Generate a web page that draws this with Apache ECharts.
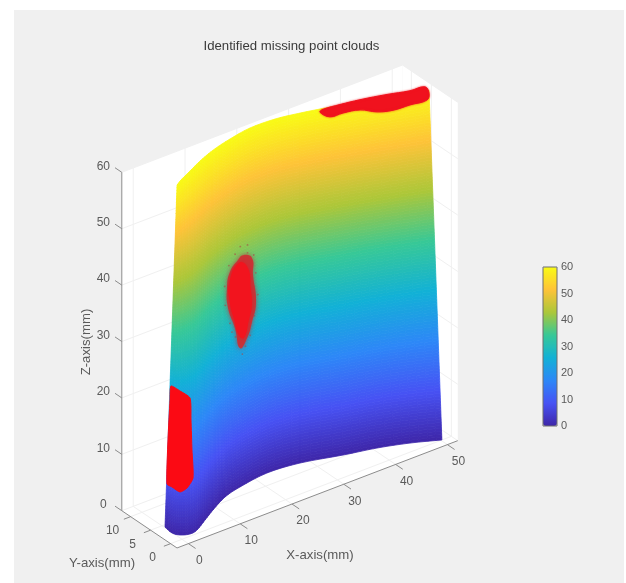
<!DOCTYPE html>
<html><head><meta charset="utf-8">
<style>html,body{margin:0;padding:0;background:#fff}#c{width:626px;height:583px;filter:blur(0.55px)}</style>
<script src="https://cdn.jsdelivr.net/npm/echarts@6/dist/echarts.min.js"></script>
</head><body><div id="c"></div>
<script>
// Axis ticks (mm)
const xTicks = [0, 10, 20, 30, 40, 50];
const yTicks = [0, 5, 10];
const zTicks = [0, 10, 20, 30, 40, 50, 60];
const colorbarTicks = [0, 10, 20, 30, 40, 50, 60];
const xRange = [-2.2, 52];
const yRange = [-1.6, 12.2];
const zRange = [0, 60];

// Surface outline: the cloud's lower edge (z = 0) and upper edge (z = 60)
const baseX = [0.15, -0.08, 0.54, 1.95, 3.55, 6.36, 9.17, 13.02, 16.7, 22.58, 28.47, 35.23, 40.7, 45.68, 50.17];
const baseY = [4.44, 2.4, 1.2, 0.53, 0.85, 2.48, 4.13, 6.11, 7.13, 8.0, 7.37, 5.37, 3.96, 2.15, 0];
const topX = [2.29, 3.69, 5.22, 7.06, 9.2, 11.46, 13.85, 17.22, 21.69, 26.41, 30.59, 35.38, 39.99, 45.4, 50.68];
const topY = [4.2, 5.03, 5.76, 6.64, 7.66, 8.6, 9.43, 10.3, 11.1, 10.95, 10.1, 8.8, 7.3, 5.55, 3.88];

// Missing regions, outlines as [x, y, z] in mm
const missingRoot = [[1.35,4.5,24.55],[3.09,4.5,23.06],[5.02,4.5,21.14],[5.21,4.5,17.17],[5.4,4.5,11.78],[5.6,4.5,6.75],[4.44,4.5,5.38],[3.09,4.5,5.15],[1.54,4.5,6.58],[0.58,4.5,7.45],[0.77,4.5,15.19],[1.16,4.5,22.14]];
const missingMidOuter = [[18.73,9,39.5],[20.46,9,38.4],[20.66,9,35.3],[21.24,9,30.3],[20.46,9,27.0],[19.5,9,24.5],[18.15,9,23.2],[17.18,9,27.1],[15.83,9,31.2],[15.64,9,34.75],[16.2,9,37.4],[17.76,9,39.0]];
const missingMidCore = [[17.9,9,38.4],[19.6,9,37],[20.2,9,33],[20.4,9,30],[19.8,9,27.5],[18.9,9,24.8],[18.0,9,25.5],[17.0,9,28.8],[16.2,9,32],[16.1,9,35.5]];
const missingMidStray = [[18.2,9,41.2],[19.6,9,41],[20.8,9,38.8],[21.2,9,35.5],[21.6,9,31.5],[20.9,9,28],[20.1,9,24.8],[18.6,9,22],[17.3,9,25.5],[16.2,9,28.3],[15.3,9,31.8],[15.2,9,35.2],[16,9,38.6],[17.2,9,40.2],[19.6,9,39.6],[20.9,9,33.2],[16.6,9,26.6],[19.2,9,23.2]];
const missingTop = [[31.66,6.5,61.5],[33.59,6.5,60],[36.1,6.5,59.8],[39.38,6.5,59.2],[42.66,6.5,57.7],[45.75,6.5,56.9],[49.03,6.5,56.7],[52.3,6.5,56.4],[52.7,6.5,57.5],[51.9,6.5,58.9],[49.03,6.5,59.2],[44.6,6.5,60.1],[39.38,6.5,61.0],[35.52,6.5,61.5],[32.24,6.5,61.8]];

// parula colour map
const parula = ['#3E26A8','#4752F4','#2D87F7','#12B1D6','#37C897','#ABC739','#FEC338','#F9FB15'];

const fontFamily = '"Liberation Sans", Arial, sans-serif';
const labelColor = '#5a5a5a';
const axisColor = '#8c8c8c';
const gridColor = '#f0f0f0';

// Fixed orthographic view of the MATLAB figure
function proj(p) {
  return [182 + 5.18 * p[0] - 4 * p[1], 539.3 - 1.98 * p[0] - 2.7 * p[1] - 5.64 * p[2]];
}

const [x0, x1] = xRange, [y0, y1] = yRange, [z0, z1] = zRange;

const panes = [
  [[x0,y1,z0],[x1,y1,z0],[x1,y1,z1],[x0,y1,z1]],
  [[x1,y0,z0],[x1,y1,z0],[x1,y1,z1],[x1,y0,z1]],
  [[x0,y0,z0],[x1,y0,z0],[x1,y1,z0],[x0,y1,z0]]
];
const gridSegs = [];
xTicks.forEach(t => { gridSegs.push([[t,y1,z0],[t,y1,z1]], [[t,y0,z0],[t,y1,z0]]); });
yTicks.forEach(t => { gridSegs.push([[x1,t,z0],[x1,t,z1]], [[x0,t,z0],[x1,t,z0]]); });
zTicks.forEach(t => { gridSegs.push([[x0,y1,t],[x1,y1,t]], [[x1,y0,t],[x1,y1,t]]); });
const axisSegs = [
  [[x0,y0,z0],[x1,y0,z0]],
  [[x0,y0,z0],[x0,y1,z0]],
  [[x0,y1,z0],[x0,y1,z1]]
];
xTicks.forEach(t => axisSegs.push([[t,y0,z0],[t,y0-1.8,z0]]));
yTicks.forEach(t => axisSegs.push([[x0,t,z0],[x0-1.3,t,z0]]));
zTicks.forEach(t => axisSegs.push([[x0,y1,t],[x0,y1+1.7,t]]));

// Surface shading cells: smooth patch through the read outline stations
const heightStep = 0.5, stationSub = 4;
const cells = [];
for (let j = 0; j < baseX.length - 1; j++) {
  for (let s = 0; s < stationSub; s++) {
    for (let z = z0; z < z1; z += heightStep) cells.push([j, s, z + heightStep / 2, z]);
  }
}
function catmull(a, j, t) {
  const n = a.length;
  const p0 = a[Math.max(j - 1, 0)], p1 = a[j], p2 = a[Math.min(j + 1, n - 1)], p3 = a[Math.min(j + 2, n - 1)];
  return 0.5 * (2 * p1 + (p2 - p0) * t + (2 * p0 - 5 * p1 + 4 * p2 - p3) * t * t + (3 * p1 - p0 - 3 * p2 + p3) * t * t * t);
}
function surfacePoint(j, s, z) {
  if (s >= stationSub) { j += 1; s = 0; }
  const t = s / stationSub, f = z / z1;
  const bx = catmull(baseX, j, t), by = catmull(baseY, j, t), tx = catmull(topX, j, t), ty = catmull(topY, j, t);
  return [bx + (tx - bx) * f, by + (ty - by) * f, z];
}

function polySeries(polys, style, z, smooth) {
  return {
    type: 'custom', coordinateSystem: 'cartesian2d', xAxisIndex: 0, yAxisIndex: 0, z, silent: true,
    clip: false, progressive: 0, animation: false,
    data: polys.map((_, i) => [i, 0]),
    renderItem(params, api) {
      const pts = polys[api.value(0)].map(p => api.coord(proj(p)));
      return { type: 'polygon', shape: { points: pts, smooth: smooth || 0 }, style };
    }
  };
}
function segSeries(segs, color, z) {
  return {
    type: 'custom', coordinateSystem: 'cartesian2d', xAxisIndex: 0, yAxisIndex: 0, z, silent: true,
    clip: false, progressive: 0, animation: false,
    data: segs.map((_, i) => [i, 0]),
    renderItem(params, api) {
      const s = segs[api.value(0)];
      const a = api.coord(proj(s[0])), b = api.coord(proj(s[1]));
      return { type: 'line', shape: { x1: a[0], y1: a[1], x2: b[0], y2: b[1] }, style: { stroke: color, lineWidth: 1 } };
    }
  };
}
function tickLabels(points, texts, dx, dy) {
  return {
    type: 'custom', coordinateSystem: 'cartesian2d', xAxisIndex: 0, yAxisIndex: 0, z: 8, silent: true,
    clip: false, progressive: 0, animation: false,
    data: points.map((_, i) => [i, 0]),
    renderItem(params, api) {
      const i = api.value(0);
      const c = api.coord(proj(points[i]));
      return { type: 'text', x: c[0] + dx, y: c[1] + dy, style: {
        text: String(texts[i]), fill: labelColor, font: '12px ' + fontFamily, textAlign: 'center', textVerticalAlign: 'middle' } };
    }
  };
}

const surfaceSeries = {
  type: 'custom', coordinateSystem: 'cartesian2d', xAxisIndex: 0, yAxisIndex: 0, z: 3, silent: true,
  clip: false, progressive: 0, animation: false,
  dimensions: ['station', 'sub', 'mid', 'height'],
  data: cells,
  renderItem(params, api) {
    const j = api.value(0), s = api.value(1), z = api.value(3);
    const corners = [surfacePoint(j, s, z), surfacePoint(j, s + 1, z), surfacePoint(j, s + 1, z + heightStep), surfacePoint(j, s, z + heightStep)];
    const color = api.visual('color');
    return { type: 'polygon', shape: { points: corners.map(p => api.coord(proj(p))) },
      style: { fill: color, stroke: color, lineWidth: 0.8 } };
  }
};

const series = [
  polySeries(panes, { fill: '#ffffff' }, 1),
  segSeries(gridSegs, gridColor, 2),
  surfaceSeries,
  polySeries([missingMidOuter], { fill: 'rgba(206,44,50,0.9)', shadowColor: 'rgba(190,50,55,0.9)', shadowBlur: 5 }, 4, 0.5),
  {
    type: 'custom', coordinateSystem: 'cartesian2d', xAxisIndex: 0, yAxisIndex: 0, z: 4, silent: true,
    clip: false, progressive: 0, animation: false,
    data: missingMidStray.map((_, i) => [i, 0]),
    renderItem(params, api) {
      const c = api.coord(proj(missingMidStray[api.value(0)]));
      return { type: 'circle', shape: { cx: c[0], cy: c[1], r: 0.9 }, style: { fill: 'rgba(170,70,70,0.6)' } };
    }
  },
  polySeries([missingMidCore], { fill: '#f2141e', shadowColor: '#f2141e', shadowBlur: 2 }, 5, 0.5),
  polySeries([missingRoot], { fill: '#fb0a14', stroke: '#fb0a14', lineWidth: 1, lineJoin: 'round' }, 5, 0.2),
  polySeries([missingTop], { fill: '#f0121e', stroke: '#f0121e', lineWidth: 1, lineJoin: 'round', shadowColor: 'rgba(240,18,30,0.7)', shadowBlur: 2 }, 5, 0.4),
  segSeries(axisSegs, axisColor, 6),
  tickLabels(xTicks.map(t => [t, y0, z0]), xTicks, 11, 17),
  tickLabels(yTicks.map(t => [x0, t, z0]), yTicks, -18, 14.5),
  tickLabels(zTicks.map(t => [x0, y1, t]), zTicks, -18.5, -6),
  { type: 'custom', coordinateSystem: 'cartesian2d', xAxisIndex: 1, yAxisIndex: 1, silent: true, data: [], renderItem() { return null; } }
];

const chart = echarts.init(document.getElementById('c'), null, { renderer: 'canvas' });
chart.setOption({
  animation: false,
  backgroundColor: '#ffffff',
  textStyle: { fontFamily },
  title: { text: 'Identified missing point clouds', left: 286.5, top: 35, textAlign: 'center',
    textStyle: { fontSize: 13.2, fontWeight: 'normal', color: '#3a3a3a', fontFamily } },
  tooltip: { show: false },
  grid: [
    { left: 0, top: 0, width: 626, height: 583, containLabel: false },
    { left: 543, top: 267, width: 14, height: 159, containLabel: false, show: true, backgroundColor: 'transparent', borderColor: '#6e6e6e', borderWidth: 1, z: 9 }
  ],
  xAxis: [
    { type: 'value', gridIndex: 0, min: 0, max: 626, show: false },
    { type: 'value', gridIndex: 1, min: 0, max: 1, show: false }
  ],
  yAxis: [
    { type: 'value', gridIndex: 0, min: 0, max: 583, inverse: true, show: false },
    { type: 'value', gridIndex: 1, min: 0, max: 60, interval: 10, position: 'right',
      axisLine: { show: false }, axisTick: { show: false }, splitLine: { show: false },
      axisLabel: { color: labelColor, fontSize: 11, margin: 4, fontFamily,
        customValues: colorbarTicks } }
  ],
  visualMap: {
    type: 'continuous', min: 0, max: 60, dimension: 2, seriesIndex: 2, calculable: false, hoverLink: false,
    realtime: false, left: 543, top: 267, padding: 0, itemWidth: 14, itemHeight: 159, text: null, showLabel: false,
    inRange: { color: parula }, textStyle: { color: 'transparent', fontSize: 1 }, z: 8
  },
  graphic: [
    { type: 'rect', z: -100, silent: true, shape: { x: 14, y: 10, width: 610, height: 573 }, style: { fill: '#f0f0f0' } },
    { type: 'text', silent: true, x: 320, y: 555, style: { text: 'X-axis(mm)', fill: labelColor, font: '13.2px ' + fontFamily, textAlign: 'center', textVerticalAlign: 'middle' } },
    { type: 'text', silent: true, x: 102, y: 563, style: { text: 'Y-axis(mm)', fill: labelColor, font: '13.2px ' + fontFamily, textAlign: 'center', textVerticalAlign: 'middle' } },
    { type: 'text', silent: true, x: 86, y: 342, rotation: Math.PI / 2, style: { text: 'Z-axis(mm)', fill: labelColor, font: '13.2px ' + fontFamily, textAlign: 'center', textVerticalAlign: 'middle' } }
  ],
  series
});
</script></body></html>
